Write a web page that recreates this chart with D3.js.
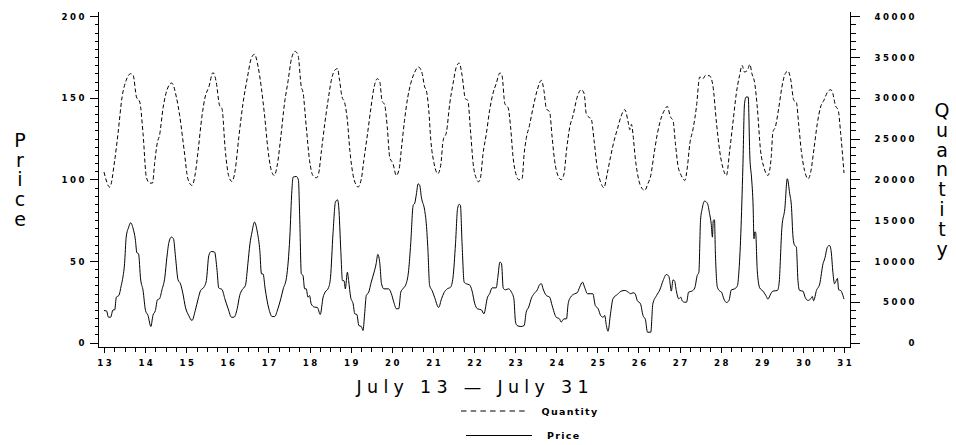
<!DOCTYPE html>
<html><head><meta charset="utf-8">
<script src="https://cdn.jsdelivr.net/npm/d3@7"></script>
<style>
html,body{margin:0;padding:0;background:#fff;}
svg{display:block;}
</style></head><body>
<svg id="chart" width="956" height="445"></svg>
<script>
// ---------- data ----------
const priceDays = [
  13.00,13.06,13.11,13.16,13.22,13.26,13.30,13.36,13.42,13.46,13.50,13.54,13.60,13.65,13.71,13.76,13.80,13.84,13.89,13.95,
  14.01,14.07,14.14,14.19,14.25,14.30,14.35,14.41,14.48,14.53,14.58,14.64,14.69,14.74,14.80,14.86,14.92,14.98,
  15.06,15.14,15.22,15.29,15.35,15.43,15.49,15.55,15.61,15.69,15.75,15.79,15.87,15.94,
  16.02,16.10,16.16,16.24,16.30,16.36,16.44,16.50,16.55,16.60,16.66,16.73,16.79,16.83,16.87,16.92,
  17.01,17.09,17.15,17.23,17.30,17.36,17.44,17.52,17.57,17.60,17.68,17.73,17.76,17.80,17.84,17.88,17.92,17.96,
  18.00,18.04,18.12,18.19,18.26,18.33,18.38,18.46,18.51,18.57,18.63,18.68,18.71,18.76,18.80,18.84,18.87,18.92,18.95,
  19.00,19.06,19.10,19.15,19.20,19.26,19.30,19.34,19.38,19.44,19.50,19.57,19.62,19.66,19.71,19.75,19.81,19.92,19.99,
  20.05,20.11,20.17,20.22,20.27,20.35,20.41,20.46,20.52,20.56,20.60,20.64,20.68,20.72,20.80,20.84,20.88,20.92,20.98,
  21.04,21.14,21.21,21.27,21.35,21.43,21.49,21.55,21.60,21.64,21.67,21.71,21.76,21.81,21.89,21.95,
  22.02,22.08,22.18,22.24,22.33,22.38,22.44,22.54,22.58,22.63,22.67,22.71,22.76,22.84,22.91,22.97,
  23.01,23.05,23.14,23.22,23.27,23.33,23.40,23.46,23.54,23.60,23.64,23.68,23.76,23.84,23.90,
  24.00,24.08,24.12,24.19,24.25,24.29,24.35,24.45,24.51,24.57,24.64,24.69,24.76,24.89,24.95,
  25.02,25.08,25.14,25.18,25.22,25.26,25.32,25.38,25.49,25.58,25.67,25.75,25.81,25.87,25.92,25.97,
  26.05,26.11,26.17,26.22,26.30,26.35,26.44,26.52,26.60,26.68,26.74,26.76,26.80,26.84,26.88,26.92,26.98,
  27.03,27.06,27.12,27.17,27.22,27.30,27.37,27.43,27.47,27.51,27.55,27.61,27.68,27.73,27.77,27.80,27.82,27.85,27.87,27.92,27.98,
  28.02,28.08,28.14,28.20,28.26,28.34,28.41,28.44,28.49,28.54,28.58,28.62,28.67,28.71,28.75,28.79,28.81,28.83,28.85,28.89,28.95,
  29.03,29.10,29.15,29.22,29.27,29.38,29.42,29.49,29.56,29.62,29.68,29.72,29.76,29.80,29.84,29.88,29.92,
  30.00,30.06,30.12,30.19,30.23,30.26,30.33,30.41,30.49,30.53,30.60,30.65,30.69,30.73,30.77,30.81,30.84,30.87,30.92,30.95,31.00
];
const priceValues = [
  19.6,19.4,15.5,15.5,20,20,27.8,28.8,35,40,48.3,64.6,70.7,73.4,69.7,63.6,55,54.4,39,31.9,
  19.6,16.6,9.8,16.6,19.6,26.2,26.8,32.3,40,52.3,61.5,64.6,63.6,52.3,38.5,36,29.9,21.7,
  16.6,13.5,19.6,26.8,31.9,33.9,38,53.4,55.8,55.4,44.2,33.5,32.5,26.8,
  20.7,15.5,15.5,20.7,28.8,32.3,35,48.3,60.5,67.7,73.8,67.7,56.4,42.1,42,32.9,
  20.7,15.9,15.9,20.7,26.8,32.9,40,64.6,93.3,101.4,101.8,99.4,76.9,42.1,41.1,32.9,32.9,27.8,
  28.8,23.7,21.7,21.5,17.2,27.8,30.9,33.5,40,66.7,86.1,87.5,83,56.4,38,37.8,32.9,43.1,38,
  27.8,23.7,17.6,17.2,10.4,9.8,7.4,17.6,28.8,30.9,37,43.1,48.3,54,48.3,36,32.9,32.9,29.9,
  24.7,20.7,20.7,30.9,32.9,36,44.2,60.5,84,85.5,91.2,97.3,96.3,89.1,81,72.8,56.4,35,31.9,
  27.8,21.5,26.8,30.5,32.9,33.9,40,60.5,82,84.7,84,60.5,37,36,35.4,31.9,
  23.7,20.7,20,17.6,27.8,29.9,33.5,33.5,40,49.3,48.3,33.5,32.3,32.9,30.9,26.8,
  12.5,10.4,9.8,10.4,18.6,21.7,27.4,29.9,32.3,35.6,36,32.9,28.8,27.8,22.7,
  15.5,14.5,12.5,14.5,14.5,23.7,27.8,29.9,30.5,33.9,37,33.9,29.9,29.9,22.7,
  20.7,16.6,15.5,16.6,10.4,6.9,17.6,26.8,29.5,31.5,31.9,30.9,29.9,30.5,29.9,25.8,
  23.7,16.6,14,6.3,6.3,23.7,28.8,32.3,38,41.7,40.5,38,31.5,38.4,37.6,31.9,26.8,
  27.8,25.8,24.7,24.7,30.9,31.5,33.5,41.1,43.1,74.8,82,86.7,85.1,79,72.8,64.6,74.8,75.2,56.4,33.9,31.5,
  30.9,26.6,24.5,25.6,32.3,32.9,35,42.1,66.7,107.5,146.4,150.5,150.5,113.7,101.4,83,63.6,67.7,67.7,44.2,33.5,
  31.5,28.8,26.6,29.9,31.5,31.9,36,70.7,82,100.4,91.2,84,64.6,59.5,58.7,38,31.9,
  31.5,27.4,25.8,26.8,28.2,25.6,31.9,36,48.3,51.3,58.7,59.5,55.4,43.1,36,38,39.3,32.3,31.9,30.5,26.6
];
const quantityDays = [
  13.00,13.14,13.26,13.34,13.44,13.54,13.65,13.71,13.79,13.87,13.95,
  14.03,14.11,14.18,14.23,14.30,14.35,14.44,14.56,14.65,14.76,14.84,14.95,
  15.04,15.14,15.22,15.29,15.38,15.46,15.55,15.65,15.73,15.81,15.87,15.95,
  16.03,16.11,16.19,16.28,16.38,16.49,16.58,16.66,16.75,16.83,16.91,16.99,
  17.07,17.14,17.22,17.30,17.39,17.48,17.56,17.65,17.72,17.80,17.84,17.92,
  18.00,18.08,18.17,18.22,18.29,18.37,18.45,18.53,18.61,18.68,18.73,18.79,18.85,18.92,18.98,
  19.06,19.14,19.18,19.26,19.32,19.41,19.49,19.57,19.65,19.71,19.76,19.83,19.89,19.95,
  20.03,20.11,20.18,20.23,20.31,20.39,20.46,20.56,20.65,20.74,20.80,20.84,20.90,20.95,
  21.03,21.12,21.19,21.25,21.33,21.41,21.49,21.57,21.64,21.71,21.79,21.85,21.92,21.98,
  22.06,22.11,22.16,22.22,22.30,22.38,22.46,22.54,22.63,22.68,22.75,22.83,22.89,22.95,
  23.03,23.09,23.17,23.22,23.27,23.35,23.44,23.54,23.64,23.70,23.76,23.84,23.90,23.96,
  24.04,24.12,24.19,24.25,24.33,24.41,24.51,24.61,24.68,24.73,24.79,24.85,24.92,
  25.00,25.08,25.16,25.24,25.32,25.41,25.49,25.57,25.67,25.75,25.79,25.83,25.87,25.92,
  26.01,26.09,26.15,26.23,26.30,26.38,26.46,26.56,26.64,26.70,26.78,26.84,26.90,26.96,
  27.04,27.13,27.19,27.25,27.33,27.41,27.49,27.57,27.63,27.73,27.81,27.90,27.98,
  28.06,28.14,28.22,28.30,28.38,28.46,28.52,28.58,28.65,28.71,28.76,28.83,28.89,28.97,
  29.05,29.15,29.23,29.27,29.33,29.41,29.49,29.57,29.64,29.70,29.78,29.84,29.90,29.96,
  30.04,30.13,30.19,30.27,30.35,30.43,30.51,30.60,30.68,30.73,30.79,30.86,30.92,31.00
];
const quantityValues = [
  20900,19050,22330,25600,30100,32150,32970,32760,30100,29490,25600,
  20280,19550,19550,21920,24580,25400,28870,31330,31820,30100,27850,23560,
  20080,19260,20700,23560,27640,30100,31330,33090,31940,29080,28670,23560,
  20490,19750,21100,25190,29290,32550,34810,35340,33780,31130,27640,23560,
  21100,20490,21920,25190,29290,32150,34800,35700,35210,31330,30710,26420,
  22330,20490,20200,20700,23560,26830,29690,32150,33370,33580,32150,30100,29490,27240,23560,
  20490,19260,19060,20080,22330,25600,28670,31330,32350,31940,29690,29080,26420,22740,
  21920,20490,21310,23560,27240,30100,31740,33170,33780,32970,31330,30920,28470,24790,
  21920,20700,21720,24790,25810,29290,31740,33780,34270,32760,29900,29690,25600,21920,
  20080,19700,20280,23150,25600,28470,30510,31740,33050,32760,29290,28800,26420,22740,
  20490,19960,20080,23150,24990,26630,28870,31000,32150,30920,28670,28260,25190,22330,
  20490,19960,20700,23560,26420,27850,30100,31000,30510,28060,27640,27440,24790,
  21310,19670,18980,20700,22740,24790,26220,27640,28550,27030,26100,26750,25400,22740,
  19880,18860,18650,19470,20490,23150,25600,27640,28550,28960,27640,27240,24380,21720,
  20490,19880,21510,24380,26220,28870,32550,32350,32760,32700,31530,26830,23350,
  21310,20490,23560,27030,30510,32760,33990,33170,33370,34110,32970,31740,28870,23560,
  21510,20490,22740,25810,26420,28670,31330,32970,33290,32350,29690,29490,26630,23560,
  21100,20080,20900,23760,26830,28870,29690,30710,31000,30510,29080,28470,25600,20780
];
const priceTicks = [0, 50, 100, 150, 200];
const quantityTicks = [0, 5000, 10000, 15000, 20000, 25000, 30000, 35000, 40000];
const dayTicks = [13,14,15,16,17,18,19,20,21,22,23,24,25,26,27,28,29,30,31];
const xTitle = "July 13 \u2014 July 31";
const leftTitle = "Price";
const rightTitle = "Quantity";
const legendItems = [
  {label: "Quantity", dashed: true},
  {label: "Price", dashed: false}
];

// ---------- drawing ----------
const svg = d3.select("#chart");
svg.append("rect").attr("width", 956).attr("height", 445).attr("fill", "#fff");

const x = d3.scaleLinear().domain([13, 31]).range([104, 844]);
const yP = d3.scaleLinear().domain([0, 200]).range([342.5, 16.3]);
const yQ = d3.scaleLinear().domain([0, 40000]).range([342.5, 16.3]);

const tickFont = "'DejaVu Sans', Verdana, sans-serif";
const LS = 2.5; // letter spacing for tick labels

// frame lines
const frame = svg.append("g").attr("stroke", "#000").attr("stroke-width", 1).attr("shape-rendering", "crispEdges");
frame.append("line").attr("x1", 98.5).attr("x2", 98.5).attr("y1", 12).attr("y2", 347.5);
frame.append("line").attr("x1", 850.5).attr("x2", 850.5).attr("y1", 12).attr("y2", 347.5);
frame.append("line").attr("x1", 98.5).attr("x2", 850.5).attr("y1", 347.5).attr("y2", 347.5);

function styleAxis(g) {
  g.select(".domain").remove();
  g.selectAll(".tick line").attr("stroke", "#000").attr("shape-rendering", "crispEdges");
  g.selectAll(".tick text")
    .attr("fill", "#000")
    .style("font-family", tickFont)
    .style("font-weight", "bold")
    .style("font-size", "8.6px")
    .style("letter-spacing", LS + "px");
}

// left axis
const gLm = svg.append("g").attr("transform", "translate(98.5,0)")
  .call(d3.axisLeft(yP).tickValues(d3.range(0, 201, 5)).tickSize(4).tickSizeOuter(0).tickFormat(""));
styleAxis(gLm);
const gL = svg.append("g").attr("transform", "translate(98.5,0)")
  .call(d3.axisLeft(yP).tickValues(priceTicks).tickSize(9).tickSizeOuter(0).tickPadding(5).tickFormat(d3.format("d")));
styleAxis(gL);
gL.selectAll(".tick text").attr("dx", LS).attr("dy", "0.36em");

// right axis
const gRm = svg.append("g").attr("transform", "translate(850.5,0)")
  .call(d3.axisRight(yQ).tickValues(d3.range(0, 40001, 1000)).tickSize(5).tickSizeOuter(0).tickFormat(""));
styleAxis(gRm);
const gR = svg.append("g").attr("transform", "translate(850.5,0)")
  .call(d3.axisRight(yQ).tickValues(quantityTicks).tickSize(9).tickSizeOuter(0).tickFormat(d3.format("d")));
styleAxis(gR);
gR.selectAll(".tick text").attr("text-anchor", "end").attr("x", 64).attr("dx", LS).attr("dy", "0.36em");

// bottom axis
const gBm = svg.append("g").attr("transform", "translate(0,347.5)")
  .call(d3.axisBottom(x).tickValues(d3.range(13, 31.001, 0.25)).tickSize(4).tickSizeOuter(0).tickFormat(""));
styleAxis(gBm);
const gB = svg.append("g").attr("transform", "translate(0,347.5)")
  .call(d3.axisBottom(x).tickValues(dayTicks).tickSize(5).tickSizeOuter(0).tickFormat(d3.format("d")));
styleAxis(gB);
gB.selectAll(".tick text").attr("y", 18.5).attr("dy", 0).attr("dx", LS / 2);

// series
const lineQ = d3.line().x((d, i) => x(quantityDays[i])).y(d => yQ(d)).curve(d3.curveMonotoneX);
const lineP = d3.line().x((d, i) => x(priceDays[i])).y(d => yP(d)).curve(d3.curveMonotoneX);
const nQ = Math.min(quantityDays.length, quantityValues.length);
const nP = Math.min(priceDays.length, priceValues.length);

svg.append("path").attr("d", lineQ(quantityValues.slice(0, nQ)))
  .attr("fill", "none").attr("stroke", "#000").attr("stroke-width", 1)
  .attr("stroke-dasharray", "4,2.5");
svg.append("path").attr("d", lineP(priceValues.slice(0, nP)))
  .attr("fill", "none").attr("stroke", "#000").attr("stroke-width", 1);

// axis titles (stacked upright letters, one text element each)
const titleFont = "'DejaVu Sans', sans-serif";
function verticalTitle(str, cx, topY, spacing) {
  svg.append("text")
    .attr("x", cx).attr("y", topY)
    .attr("fill", "#000")
    .style("font-family", titleFont).style("font-size", "19px").style("font-weight", 400)
    .style("writing-mode", "vertical-rl").style("text-orientation", "upright")
    .style("letter-spacing", spacing + "px")
    .text(str);
}
verticalTitle(leftTitle, 20, 129, -2.3);
verticalTitle(rightTitle, 942, 99, -2.2);

svg.append("text").attr("x", 472.5).attr("y", 393).attr("dx", 2.75)
  .attr("text-anchor", "middle").attr("fill", "#000")
  .style("font-family", titleFont).style("font-size", "17.5px").style("font-weight", 400)
  .style("letter-spacing", "5.3px").text(xTitle);

// legend
const legY = [411, 435.5];
const legLine = [[461, 526], [466, 532]];
const legText = [541.5, 547];
legendItems.forEach((it, i) => {
  svg.append("line").attr("x1", legLine[i][0]).attr("x2", legLine[i][1])
    .attr("y1", legY[i]).attr("y2", legY[i]).attr("stroke", "#000").attr("stroke-width", 1)
    .attr("stroke-dasharray", it.dashed ? "5.5,4.2" : null);
  svg.append("text").attr("x", legText[i]).attr("y", legY[i] + 3.6).attr("fill", "#000")
    .style("font-family", tickFont).style("font-weight", "bold").style("font-size", "9.5px")
    .style("letter-spacing", "1.3px").text(it.label);
});
</script>
</body></html>
